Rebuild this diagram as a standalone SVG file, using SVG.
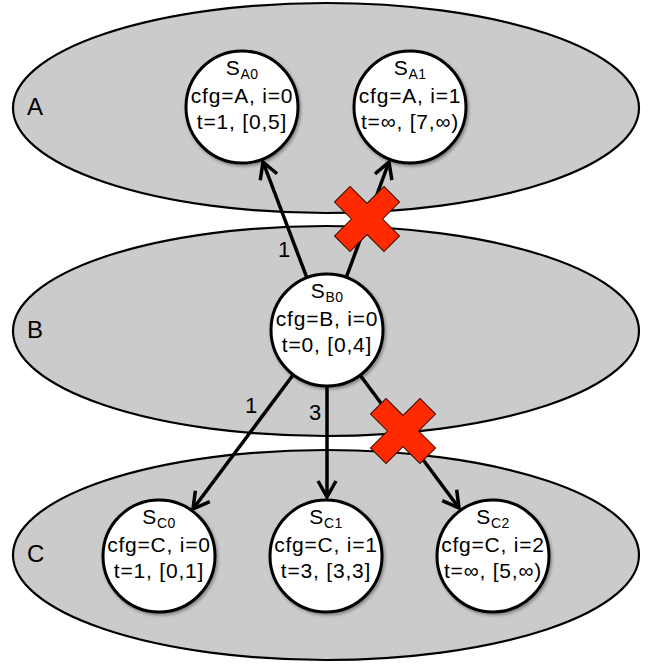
<svg xmlns="http://www.w3.org/2000/svg" width="652" height="665" viewBox="0 0 652 665">
<defs>
<style>
.grp{fill:#cbcbcb;stroke:#000;stroke-width:2.2}
.st{fill:#fff;stroke:#000;stroke-width:3;filter:url(#sh)}
.t{font-family:"Liberation Sans",Arial,sans-serif;font-size:21px;letter-spacing:0.8px;fill:#000;text-anchor:middle}
.sub{font-size:14px;letter-spacing:0.4px}
.el{font-family:"Liberation Sans",Arial,sans-serif;font-size:22px;fill:#000;text-anchor:middle}
.lbl{font-family:"Liberation Sans",Arial,sans-serif;font-size:24px;fill:#000}
.e{stroke:#000;stroke-width:3.5;fill:none;marker-end:url(#ah)}
.x{fill:#ff2a00;stroke:#3a0a00;stroke-width:1}
</style>
<filter id="sh" x="-20%" y="-20%" width="150%" height="150%">
<feDropShadow dx="1.5" dy="2" stdDeviation="1.8" flood-color="#000" flood-opacity="0.35"/>
</filter>
<marker id="ah" markerUnits="userSpaceOnUse" markerWidth="34" markerHeight="34" refX="18" refY="17" orient="auto" viewBox="0 0 34 34">
<path d="M2,8 L18,17 L2,26" fill="none" stroke="#000" stroke-width="3.5"/>
</marker>
<polygon id="cross" points="-11,-35 11,-35 11,-11 35,-11 35,11 11,11 11,35 -11,35 -11,11 -35,11 -35,-11 -11,-11"/>
</defs>
<g id="groupA">
<ellipse class="grp" cx="326" cy="108" rx="313" ry="105"/>
<text class="lbl" x="27" y="115">A</text>
</g>
<g id="groupB">
<ellipse class="grp" cx="326" cy="331" rx="313" ry="105"/>
<text class="lbl" x="27" y="338">B</text>
</g>
<g id="groupC">
<ellipse class="grp" cx="326" cy="555" rx="313" ry="105"/>
<text class="lbl" x="27" y="562">C</text>
</g>
<g id="connectors">
<line class="e" x1="307" y1="278" x2="263" y2="162"/>
<line class="e" x1="346" y1="278" x2="389" y2="162"/>
<line class="e" x1="293" y1="375" x2="193" y2="509"/>
<line class="e" x1="327" y1="386" x2="327" y2="497"/>
<line class="e" x1="360" y1="375" x2="459" y2="508"/>
<text class="el" x="284" y="257">1</text>
<text class="el" x="251" y="413">1</text>
<text class="el" x="315" y="420">3</text>
</g>
<g id="SA0">
<circle class="st" cx="242" cy="107" r="56"/>
<text class="t" x="242" y="75">S<tspan class="sub" dy="4">A0</tspan></text>
<text class="t" x="242" y="103">cfg=A, i=0</text>
<text class="t" x="242" y="129">t=1, [0,5]</text>
</g>
<g id="SA1">
<circle class="st" cx="410" cy="107" r="56"/>
<text class="t" x="410" y="75">S<tspan class="sub" dy="4">A1</tspan></text>
<text class="t" x="410" y="103">cfg=A, i=1</text>
<text class="t" x="410" y="129">t=∞, [7,∞)</text>
</g>
<g id="SB0">
<circle class="st" cx="327" cy="330" r="56"/>
<text class="t" x="327" y="298">S<tspan class="sub" dy="4">B0</tspan></text>
<text class="t" x="327" y="326">cfg=B, i=0</text>
<text class="t" x="327" y="352">t=0, [0,4]</text>
</g>
<g id="SC0">
<circle class="st" cx="159" cy="556" r="56"/>
<text class="t" x="159" y="524">S<tspan class="sub" dy="4">C0</tspan></text>
<text class="t" x="159" y="552">cfg=C, i=0</text>
<text class="t" x="159" y="578">t=1, [0,1]</text>
</g>
<g id="SC1">
<circle class="st" cx="326" cy="556" r="56"/>
<text class="t" x="326" y="524">S<tspan class="sub" dy="4">C1</tspan></text>
<text class="t" x="326" y="552">cfg=C, i=1</text>
<text class="t" x="326" y="578">t=3, [3,3]</text>
</g>
<g id="SC2">
<circle class="st" cx="493" cy="556" r="56"/>
<text class="t" x="493" y="524">S<tspan class="sub" dy="4">C2</tspan></text>
<text class="t" x="493" y="552">cfg=C, i=2</text>
<text class="t" x="493" y="578">t=∞, [5,∞)</text>
</g>
<g id="blocked">
<use href="#cross" class="x" transform="translate(367,219) rotate(45)"/>
<use href="#cross" class="x" transform="translate(403,431) rotate(45)"/>
</g>
</svg>
